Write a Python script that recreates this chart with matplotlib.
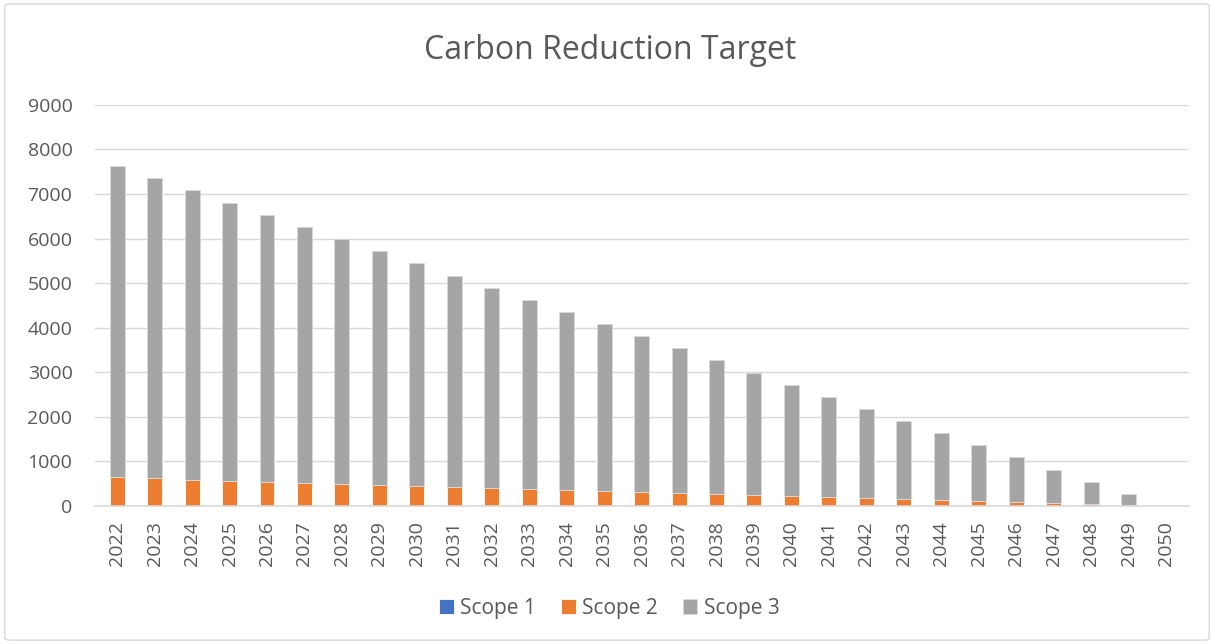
import numpy as np
import matplotlib.pyplot as plt
from matplotlib.patches import FancyBboxPatch

# Años y emisiones por alcance
years = [str(y) for y in range(2022, 2051)]
scope1 = [0] * 29
scope2 = [640, 617, 594, 571, 549, 526, 503, 480, 457, 434, 411, 389, 366, 343, 320,
          297, 274, 251, 229, 206, 183, 160, 137, 114, 91, 69, 46, 23, 0]
scope3 = [6980, 6733, 6486, 6234, 5981, 5734, 5487, 5235, 4988, 4736, 4489, 4236, 3989,
          3737, 3490, 3243, 2991, 2744, 2491, 2244, 1997, 1745, 1498, 1246, 999, 746,
          499, 249, 0]

plt.rcParams['font.family'] = ['Open Sans', 'DejaVu Sans']

fig = plt.figure(figsize=(12.14, 6.44), dpi=100)
ax = fig.add_axes([0.078, 0.2143, 0.901, 0.6228])

# Borde del gráfico
fig.patches.append(FancyBboxPatch((0.004, 0.006), 0.992, 0.988, boxstyle='round,pad=0,rounding_size=0.004',
                                  transform=fig.transFigure, fill=False, edgecolor='#d9d9d9', linewidth=1))

x = np.arange(len(years))
w = 0.4
s1 = np.array(scope1)
s2 = np.array(scope2)
s3 = np.array(scope3)
ax.bar(x, s1, w, color='#4472c4', edgecolor='white', linewidth=0.6, label='Scope 1')
ax.bar(x, s2, w, bottom=s1, color='#ed7d31', edgecolor='white', linewidth=0.6, label='Scope 2')
ax.bar(x, s3, w, bottom=s1 + s2, color='#a5a5a5', edgecolor='#d9d9d9', linewidth=0.6, label='Scope 3')

ax.set_ylim(0, 9000)
ax.set_xlim(-0.6, len(years) - 0.4)
ax.set_yticks(range(0, 9001, 1000))
ax.set_xticks(x)
ax.set_xticklabels(years, rotation=90)
ax.tick_params(axis='both', length=0, labelsize=14, colors='#595959')
ax.tick_params(axis='y', pad=16)
ax.tick_params(axis='x', pad=11)
ax.grid(axis='y', color='#d9d9d9', linewidth=1)
ax.set_axisbelow(True)
for s in ['top', 'right', 'left']:
    ax.spines[s].set_visible(False)
ax.spines['bottom'].set_color('#d9d9d9')
ax.spines['bottom'].set_linewidth(1.2)

fig.text(0.5025, 0.922, 'Carbon Reduction Target', ha='center', va='center', fontsize=23, color='#595959')

fig.legend(loc='center', bbox_to_anchor=(0.502, 0.055), ncol=3, frameon=False, fontsize=15,
           labelcolor='#595959', handlelength=0.7, handleheight=0.7, handletextpad=0.3, columnspacing=1.2)

fig.savefig('out.png', dpi=100)
